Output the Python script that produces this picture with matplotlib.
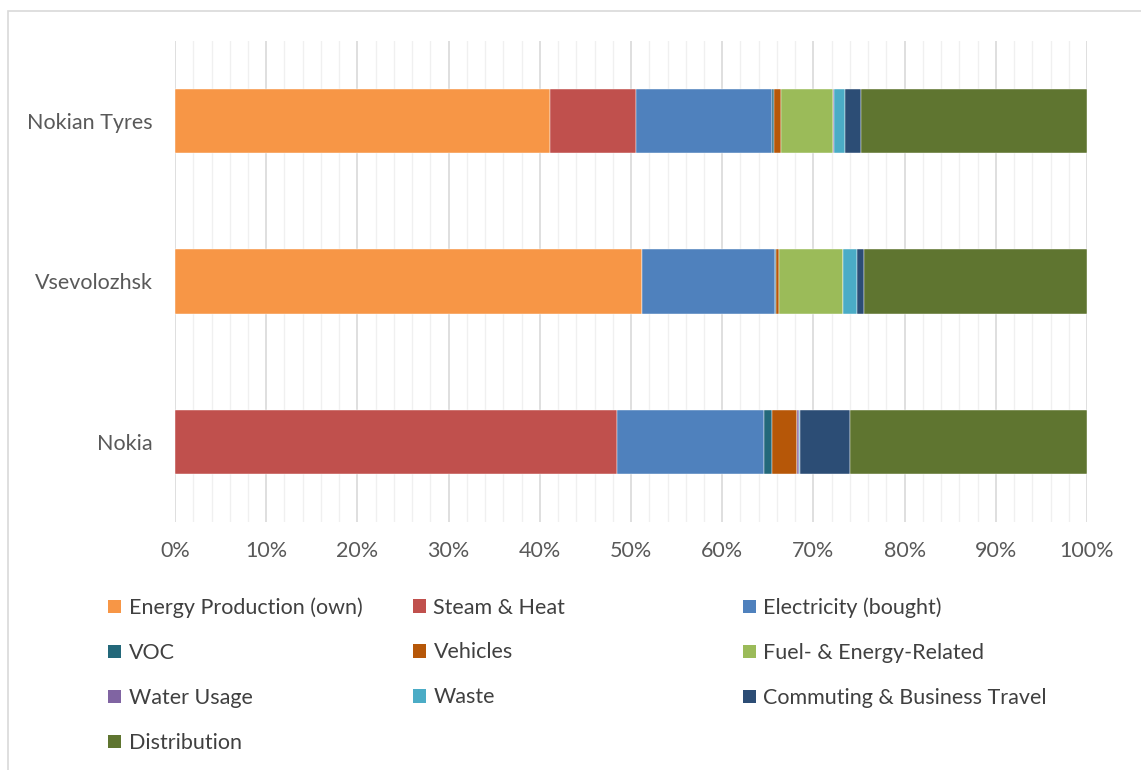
import matplotlib.pyplot as plt
from matplotlib.patches import Rectangle, Patch
from matplotlib.ticker import MultipleLocator, PercentFormatter

plt.rcParams['font.family'] = ['Lato', 'DejaVu Sans']

sites = ['Nokia', 'Vsevolozhsk', 'Nokian Tyres']
sources = ['Energy Production (own)', 'Steam & Heat', 'Electricity (bought)',
           'VOC', 'Vehicles', 'Fuel- & Energy-Related',
           'Water Usage', 'Waste', 'Commuting & Business Travel',
           'Distribution']
colors = ['#F79646', '#C0504D', '#4F81BD', '#23687A', '#B65708',
          '#9BBB59', '#8064A2', '#4BACC6', '#2C4D75', '#5F7530']

# share of emissions (%), order: Nokia, Vsevolozhsk, Nokian Tyres
energy_own   = [0.0, 51.2, 41.1]
steam_heat   = [48.5, 0.0, 9.4]
electricity  = [16.1, 14.6, 15.0]
voc          = [0.9, 0.05, 0.15]
vehicles     = [2.7, 0.35, 0.8]
fuel_energy  = [0.0, 7.0, 5.7]
water        = [0.2, 0.05, 0.1]
waste        = [0.1, 1.5, 1.2]
commuting    = [5.5, 0.8, 1.8]
distribution = [26.0, 24.5, 24.8]

series = [energy_own, steam_heat, electricity, voc, vehicles, fuel_energy,
          water, waste, commuting, distribution]

fig = plt.figure(figsize=(11.41, 7.7), dpi=100)
ax = fig.add_axes([0.1534, 0.3221, 0.7993, 0.6247])

left = [0.0] * len(sites)
for name, vals, c in zip(sources, series, colors):
    ax.barh(sites, vals, left=left, height=0.4, color=c, label=name,
            edgecolor='#FFFFFF', linewidth=0.3, zorder=3)
    left = [l + v for l, v in zip(left, vals)]

ax.set_xlim(0, 100)
ax.set_ylim(-0.5, 2.5)
ax.xaxis.set_major_locator(MultipleLocator(10))
ax.xaxis.set_minor_locator(MultipleLocator(2))
ax.xaxis.set_major_formatter(PercentFormatter(decimals=0))
ax.grid(axis='x', which='major', color='#D9D9D9', linewidth=1.2, zorder=0)
ax.grid(axis='x', which='minor', color='#F0F0F0', linewidth=1.0, zorder=0)
for s in ax.spines.values():
    s.set_visible(False)
ax.tick_params(axis='both', which='both', length=0, labelsize=15.5,
               labelcolor='#595959')
ax.tick_params(axis='x', pad=14)
ax.tick_params(axis='y', pad=16)

# legend laid out row-wise in three fixed columns
handles = [Patch(facecolor=c, edgecolor='none') for c in colors]
cols = [[0, 3, 6, 9], [1, 4, 7], [2, 5, 8]]
xs = [0.0947, 0.362, 0.651]
for col, x in zip(cols, xs):
    fig.legend([handles[i] for i in col], [sources[i] for i in col],
               loc='upper left', bbox_to_anchor=(x, 0.224), frameon=False,
               fontsize=15.5, labelcolor='#404040', handlelength=0.6,
               handleheight=0.6, handletextpad=0.35, labelspacing=1.16,
               borderaxespad=0, borderpad=0)

fig.patches.append(Rectangle((8 / 1141, -0.01), 1.0, 1 - 11 / 770 + 0.01,
                             transform=fig.transFigure, fill=False,
                             edgecolor='#D9D9D9', linewidth=1.2))

fig.savefig('out.png', dpi=100)
